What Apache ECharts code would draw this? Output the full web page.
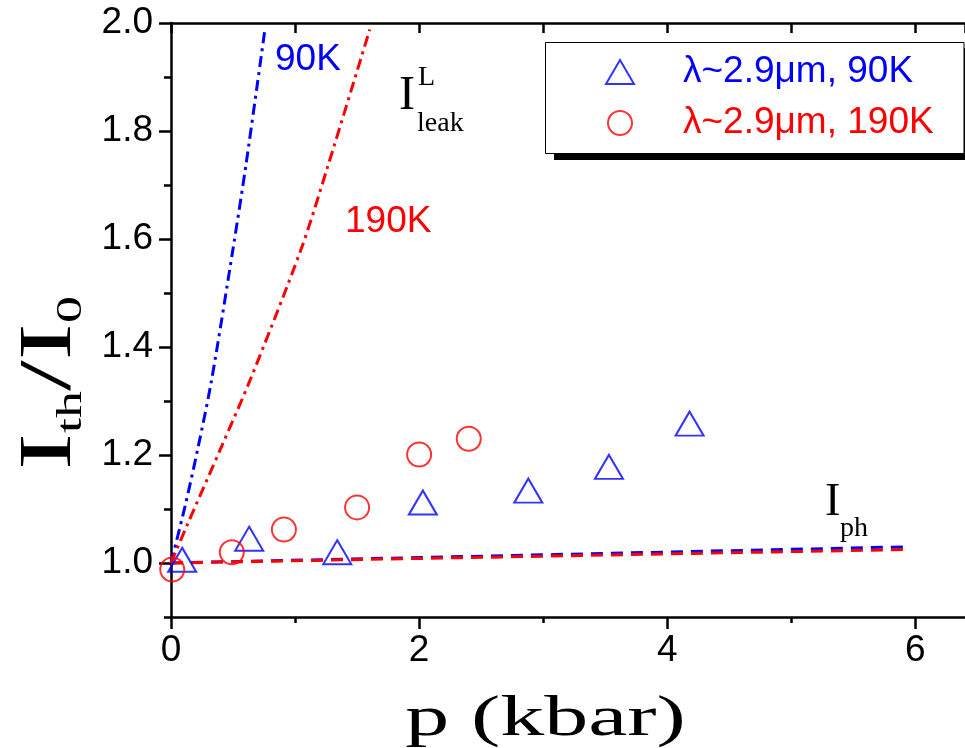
<!DOCTYPE html>
<html>
<head>
<meta charset="utf-8">
<script src="https://cdn.jsdelivr.net/npm/echarts@6/dist/echarts.min.js"></script>
<style>html,body{margin:0;padding:0;background:#fff;}#c{width:965px;height:748px;}</style>
</head>
<body>
<div id="c"></div>
<script>
// data
const triP = [0.09, 0.63, 1.34, 2.03, 2.88, 3.53, 4.18];
const triV = [1.006, 1.045, 1.020, 1.112, 1.134, 1.178, 1.258];
const circP = [0.01, 0.49, 0.91, 1.50, 2.00, 2.40];
const circV = [0.988, 1.020, 1.062, 1.103, 1.201, 1.230];
const leak90P = [0, 0.113, 0.22, 0.328, 0.50, 0.604, 0.757];
const leak90V = [1.0, 1.105, 1.216, 1.340, 1.582, 1.737, 1.988];
const leak190P = [0, 0.126, 0.408, 0.64, 1.05, 1.267, 1.602];
const leak190V = [1.0, 1.068, 1.216, 1.340, 1.582, 1.737, 1.988];
const ph90P = [0, 5.93];
const ph90V = [1.0, 1.030];
const ph190P = [0, 5.93];
const ph190V = [1.0, 1.025];
const xTickLabels = [0, 2, 4, 6];
const yTickLabels = [1.0, 1.2, 1.4, 1.6, 1.8, 2.0];
const name90 = 'λ~2.9μm, 90K';
const name190 = 'λ~2.9μm, 190K';

const zip = (a, b) => a.map((v, i) => [v, b[i]]);
const BLUE = '#0000ff', RED = '#ff0000';
const SANS = 'Liberation Sans, Arial, sans-serif';
const SERIF = 'Liberation Serif, Times New Roman, serif';
const R90 = Math.PI / 2;
const ST = 1.5; // horizontal stretch of the axis titles

const chart = echarts.init(document.getElementById('c'));
chart.setOption({
  animation: false,
  backgroundColor: '#fff',
  grid: { left: 171, top: 23, width: 795, height: 594, containLabel: false },
  xAxis: [
    { type: 'value', position: 'bottom', min: 0, max: 6.4, interval: 2,
      axisLine: { show: true, onZero: false, lineStyle: { color: '#000', width: 2.5 } },
      axisTick: { show: true, inside: false, length: 12, lineStyle: { color: '#000', width: 2.5 },
                  customValues: xTickLabels },
      minorTick: { show: true, splitNumber: 2, length: 6, lineStyle: { color: '#000', width: 2.5 } },
      axisLabel: { fontFamily: SANS, fontSize: 37, color: '#000', margin: 15, customValues: xTickLabels },
      splitLine: { show: false } },
    { type: 'value', position: 'top', min: 0, max: 6.4, interval: 1,
      axisLine: { show: true, onZero: false, lineStyle: { color: '#000', width: 2.5 } },
      axisTick: { show: true, inside: true, length: 10, lineStyle: { color: '#000', width: 2.5 } },
      axisLabel: { show: false }, splitLine: { show: false } }
  ],
  yAxis: [
    { type: 'value', position: 'left', min: 0.9, max: 2.0,
      axisLine: { show: true, onZero: false, lineStyle: { color: '#000', width: 2.5 } },
      axisTick: { show: true, inside: false, length: 12, lineStyle: { color: '#000', width: 2.5 },
                  customValues: yTickLabels },
      axisLabel: { fontFamily: SANS, fontSize: 37, color: '#000', margin: 18,
                   customValues: yTickLabels, formatter: v => v.toFixed(1) },
      splitLine: { show: false } },
    { type: 'value', position: 'left', min: 0.9, max: 2.0, interval: 0.1,
      axisLine: { show: false },
      axisTick: { show: true, inside: false, length: 7, lineStyle: { color: '#000', width: 2.5 } },
      axisLabel: { show: false }, splitLine: { show: false } }
  ],
  legend: {
    orient: 'vertical', left: 605, top: 52, itemWidth: 28, itemHeight: 24, itemGap: 11, padding: 0, z: 20,
    data: [
      { name: name90, textStyle: { color: BLUE } },
      { name: name190, textStyle: { color: RED } }
    ],
    textStyle: { fontFamily: SANS, fontSize: 37, lineHeight: 40, padding: [0, 0, 0, 44] }
  },
  graphic: [
    { type: 'rect', z: 15, shape: { x: 554, y: 48, width: 420, height: 112 }, style: { fill: '#000' } },
    { type: 'rect', z: 16, shape: { x: 545.5, y: 42.5, width: 418.5, height: 111 }, style: { fill: '#fff', stroke: '#000', lineWidth: 1 } },
    { type: 'text', z: 30, x: 275, y: 60, style: { text: '90K', fill: BLUE, font: '37px ' + SANS, verticalAlign: 'middle' } },
    { type: 'text', z: 30, x: 345, y: 222, style: { text: '190K', fill: RED, font: '37px ' + SANS, verticalAlign: 'middle' } },
    // I_leak^L
    { type: 'text', z: 30, x: 399, y: 120, style: { text: 'I', fill: '#000', font: '48px ' + SERIF, verticalAlign: 'bottom' } },
    { type: 'text', z: 30, x: 418, y: 92, style: { text: 'L', fill: '#000', font: '28px ' + SERIF, verticalAlign: 'bottom' } },
    { type: 'text', z: 30, x: 417, y: 138, style: { text: 'leak', fill: '#000', font: '28px ' + SERIF, verticalAlign: 'bottom' } },
    // I_ph
    { type: 'text', z: 30, x: 825, y: 526, style: { text: 'I', fill: '#000', font: '46px ' + SERIF, verticalAlign: 'bottom' } },
    { type: 'text', z: 30, x: 840, y: 543, style: { text: 'ph', fill: '#000', font: '28px ' + SERIF, verticalAlign: 'bottom' } },
    // x label
    { type: 'text', z: 30, x: 545.5, y: 748, scaleX: 1.57, style: { text: 'p (kbar)', fill: '#000', font: '56px ' + SERIF, align: 'center', verticalAlign: 'bottom' } },
    // y title (rotated, stretched along the text)
    { type: 'text', z: 30, x: 88, y: 470, rotation: R90, scaleX: ST, style: { text: 'I', fill: '#000', font: '74px ' + SERIF, verticalAlign: 'bottom' } },
    { type: 'text', z: 30, x: 90, y: 433, rotation: R90, scaleX: ST, style: { text: 'th', fill: '#000', font: '36px ' + SERIF, verticalAlign: 'bottom' } },
    { type: 'text', z: 30, x: 88, y: 391, rotation: R90, scaleX: ST, style: { text: '/I', fill: '#000', font: '74px ' + SERIF, verticalAlign: 'bottom' } },
    { type: 'text', z: 30, x: 90, y: 323, rotation: R90, scaleX: ST, style: { text: '0', fill: '#000', font: '36px ' + SERIF, verticalAlign: 'bottom' } }
  ],
  series: [
    { name: 'ph90', type: 'line', data: zip(ph90P, ph90V), showSymbol: false, z: 2,
      lineStyle: { color: BLUE, width: 3, type: [12, 8] } },
    { name: 'ph190', type: 'line', data: zip(ph190P, ph190V), showSymbol: false, z: 3,
      lineStyle: { color: RED, width: 3, type: [12, 8] } },
    { name: 'leak90', type: 'line', data: zip(leak90P, leak90V), showSymbol: false, smooth: 0.3, z: 2,
      lineStyle: { color: BLUE, width: 3, type: [11, 5, 3, 5] } },
    { name: 'leak190', type: 'line', data: zip(leak190P, leak190V), showSymbol: false, smooth: 0.3, z: 2,
      lineStyle: { color: RED, width: 3, type: [11, 5, 3, 5] } },
    { name: name90, type: 'scatter', data: zip(triP, triV), symbol: 'triangle', symbolSize: [28, 24], z: 4,
      itemStyle: { color: 'rgba(255,255,255,0)', borderColor: BLUE, borderWidth: 2 } },
    { name: name190, type: 'scatter', data: zip(circP, circV), symbol: 'circle', symbolSize: 24, z: 4,
      itemStyle: { color: 'rgba(255,255,255,0)', borderColor: RED, borderWidth: 2 } }
  ]
});
</script>
</body>
</html>
